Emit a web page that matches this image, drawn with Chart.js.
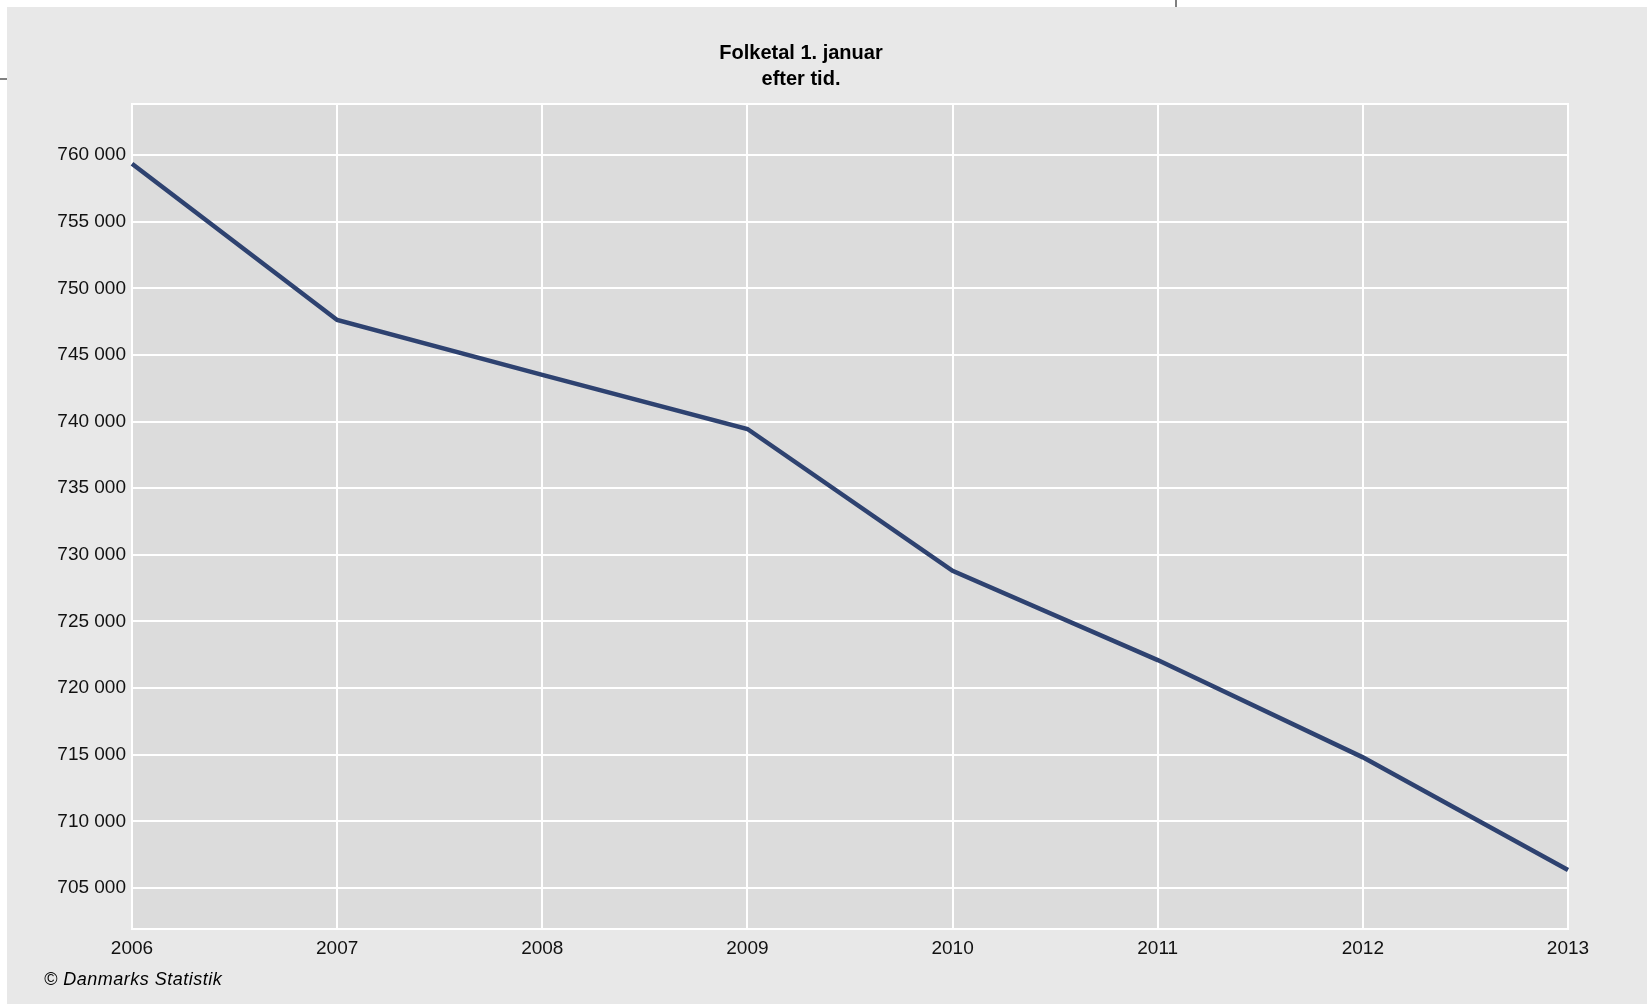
<!DOCTYPE html>
<html>
<head>
<meta charset="utf-8">
<script src="https://cdn.jsdelivr.net/npm/chart.js@4"></script>
<style>
  html, body { margin: 0; padding: 0; background: #fff; }
  #wrap { width: 1647px; height: 1005px; }
</style>
</head>
<body>
<div id="wrap"><canvas id="chart" width="1647" height="1005"></canvas></div>
<script>
// Folketal 1. januar, efter tid
const years    = ["2006", "2007", "2008", "2009", "2010", "2011", "2012", "2013"];
const folketal = [759350, 747620, 743500, 739440, 728800, 722100, 714800, 706350];
const yTicks   = [705000, 710000, 715000, 720000, 725000, 730000, 735000, 740000, 745000, 750000, 755000, 760000];
const titleLines = ["Folketal 1. januar", "efter tid."];
const footer = "\u00a9 Danmarks Statistik";

const FONT = "'Liberation Sans', Arial, sans-serif";

const fmtThousands = (v) => String(v).replace(/\B(?=(\d{3})+(?!\d))/g, " ");

const frame = {
  id: "frame",
  beforeDraw(chart) {
    const { ctx, chartArea: a } = chart;
    ctx.save();
    // grey panel
    ctx.fillStyle = "#e8e8e8";
    ctx.fillRect(7, 7, 1640, 997);
    // plot background
    ctx.fillStyle = "#dcdcdc";
    ctx.fillRect(a.left, a.top, a.right - a.left, a.bottom - a.top);
    // small page marks
    ctx.strokeStyle = "#808080";
    ctx.lineWidth = 2;
    ctx.beginPath();
    ctx.moveTo(0, 79); ctx.lineTo(7, 79);
    ctx.moveTo(1176, 0); ctx.lineTo(1176, 7);
    ctx.stroke();
    ctx.restore();
  },
  afterDraw(chart) {
    const { ctx } = chart;
    ctx.save();
    ctx.fillStyle = "#000";
    ctx.textAlign = "center";
    ctx.textBaseline = "middle";
    ctx.font = "bold 20px " + FONT;
    ctx.fillText(titleLines[0], 801, 53);
    ctx.fillText(titleLines[1], 801, 79);
    ctx.textAlign = "left";
    ctx.font = "italic 18px " + FONT;
    ctx.letterSpacing = "0.5px";
    ctx.fillText(footer, 44, 980);
    ctx.restore();
  },
  beforeDatasetsDraw(chart) {
    const { ctx, chartArea: a } = chart;
    ctx.save();
    ctx.strokeStyle = "#ffffff";
    ctx.lineWidth = 2;
    ctx.strokeRect(a.left, a.top, a.right - a.left, a.bottom - a.top);
    ctx.restore();
  }
};

new Chart(document.getElementById("chart"), {
  type: "line",
  data: {
    labels: years,
    datasets: [{
      data: folketal,
      borderColor: "#2e4270",
      borderWidth: 4.5,
      pointRadius: 0,
      tension: 0,
      fill: false,
    }],
  },
  options: {
    responsive: false,
    devicePixelRatio: 1,
    animation: false,
    layout: { padding: { top: 104, right: 79, left: 0, bottom: 0 } },
    plugins: {
      legend: { display: false },
      title: { display: false },
      tooltip: { enabled: false },
    },
    scales: {
      x: {
        offset: false,
        afterFit: (s) => { s.height = 76; },
        grid: { color: "#ffffff", lineWidth: 2, drawTicks: false },
        border: { display: false },
        ticks: {
          color: "#111",
          font: { family: FONT, size: 19 },
          padding: 8,
          maxRotation: 0,
          autoSkip: false,
        },
      },
      y: {
        min: 701920,
        max: 763830,
        afterFit: (s) => { s.width = 132; },
        afterBuildTicks: (s) => { s.ticks = yTicks.map((v) => ({ value: v })); },
        grid: { color: "#ffffff", lineWidth: 2, drawTicks: false },
        border: { display: false },
        ticks: {
          color: "#111",
          font: { family: FONT, size: 19 },
          padding: 6,
          callback: (v) => fmtThousands(v),
        },
      },
    },
  },
  plugins: [frame],
});
</script>
</body>
</html>
